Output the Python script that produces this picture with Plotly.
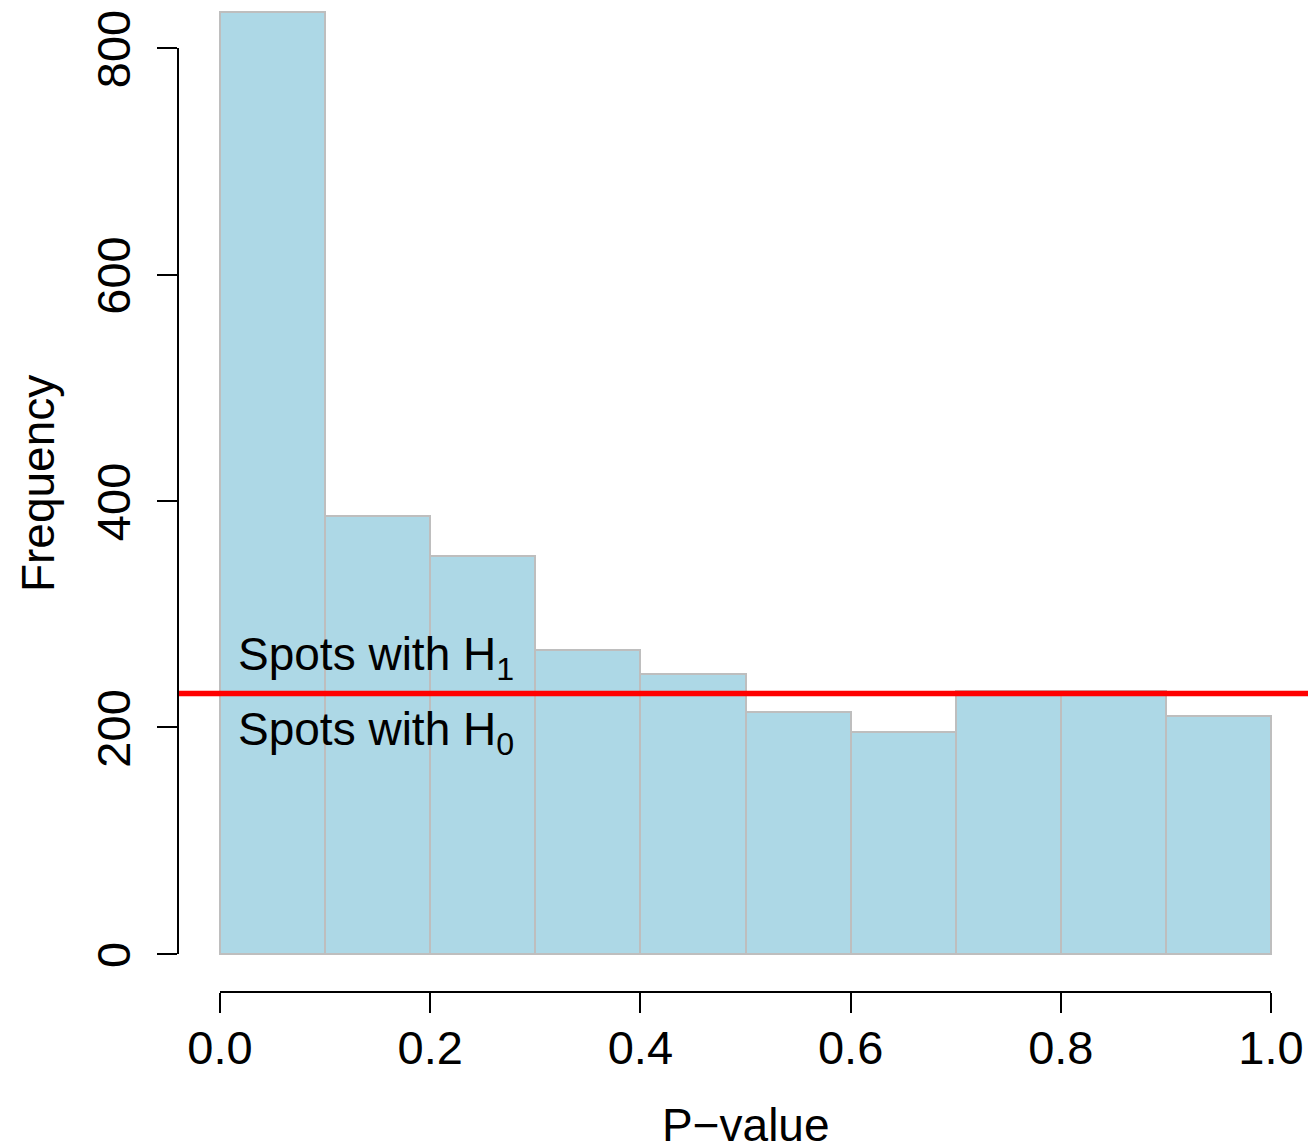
import plotly.graph_objects as go

bin_edges = [0.0, 0.1, 0.2, 0.3, 0.4, 0.5, 0.6, 0.7, 0.8, 0.9, 1.0]
counts = [832, 387, 351, 268, 247, 214, 196, 232, 232, 210]
threshold = 230
x_ticks = [0.0, 0.2, 0.4, 0.6, 0.8, 1.0]
x_tick_labels = ["0.0", "0.2", "0.4", "0.6", "0.8", "1.0"]
y_ticks = [0, 200, 400, 600, 800]
y_tick_labels = ["0", "200", "400", "600", "800"]

centers = [(bin_edges[i] + bin_edges[i + 1]) / 2 for i in range(len(counts))]
widths = [bin_edges[i + 1] - bin_edges[i] for i in range(len(counts))]

FONT = "Liberation Sans, Arial, Helvetica, sans-serif"

fig = go.Figure()
fig.add_trace(go.Bar(
    x=centers, y=counts, width=widths,
    marker=dict(color="#ADD8E6", line=dict(color="#BEBEBE", width=2)),
    showlegend=False, hoverinfo="x+y",
))

# red threshold line across plot region
fig.add_shape(type="line", xref="paper", yref="y", x0=0, x1=1,
              y0=threshold, y1=threshold, line=dict(color="#FF0000", width=5.5))

# R-style detached axis lines
fig.add_shape(type="line", xref="paper", yref="y", x0=0, x1=0,
              y0=y_ticks[0], y1=y_ticks[-1], line=dict(color="black", width=2))
fig.add_shape(type="line", xref="x", yref="paper", x0=x_ticks[0], x1=x_ticks[-1],
              y0=0, y1=0, line=dict(color="black", width=2))

fig.add_annotation(x=0.0155, y=262, xref="x", yref="y", text="Spots with H<sub>1</sub>",
                   showarrow=False, xanchor="left", yanchor="middle",
                   font=dict(family=FONT, size=46, color="black"))
fig.add_annotation(x=0.0155, y=196, xref="x", yref="y", text="Spots with H<sub>0</sub>",
                   showarrow=False, xanchor="left", yanchor="middle",
                   font=dict(family=FONT, size=46, color="black"))

fig.add_annotation(x=-0.1239, y=0.513, xref="paper", yref="paper", text="Frequency",
                   showarrow=False, textangle=-90, xanchor="center", yanchor="middle",
                   font=dict(family=FONT, size=46, color="black"))
fig.add_annotation(x=0.5, y=-0.134, xref="x", yref="paper", text="P\u2212value",
                   showarrow=False, xanchor="center", yanchor="middle",
                   font=dict(family=FONT, size=46, color="black"))

fig.update_layout(
    width=1308, height=1146,
    margin=dict(l=178, r=0, t=0, b=154, autoexpand=False),
    plot_bgcolor="white", paper_bgcolor="white",
    bargap=0,
    xaxis=dict(range=[-0.03996, 1.0352], tickvals=x_ticks, ticktext=x_tick_labels,
               showgrid=False, zeroline=False, showline=False, automargin=False,
               ticks="outside", ticklen=20, tickwidth=2, tickcolor="black",
               ticklabelstandoff=-5, ticklabeloverflow="allow",
               tickfont=dict(family=FONT, size=47, color="black")),
    yaxis=dict(range=[-33.6, 842.4], tickvals=y_ticks, ticktext=y_tick_labels,
               showgrid=False, zeroline=False, showline=False, automargin=False,
               ticks="outside", ticklen=20, tickwidth=2, tickcolor="black",
               tickangle=-90, ticklabelstandoff=8, ticklabelshift=8,
               ticklabeloverflow="allow",
               tickfont=dict(family=FONT, size=47, color="black")),
)

fig.write_html(
    "out.html",
    config={"displayModeBar": False},
    post_script="document.body.style.margin='0';document.body.style.overflow='hidden';",
)
